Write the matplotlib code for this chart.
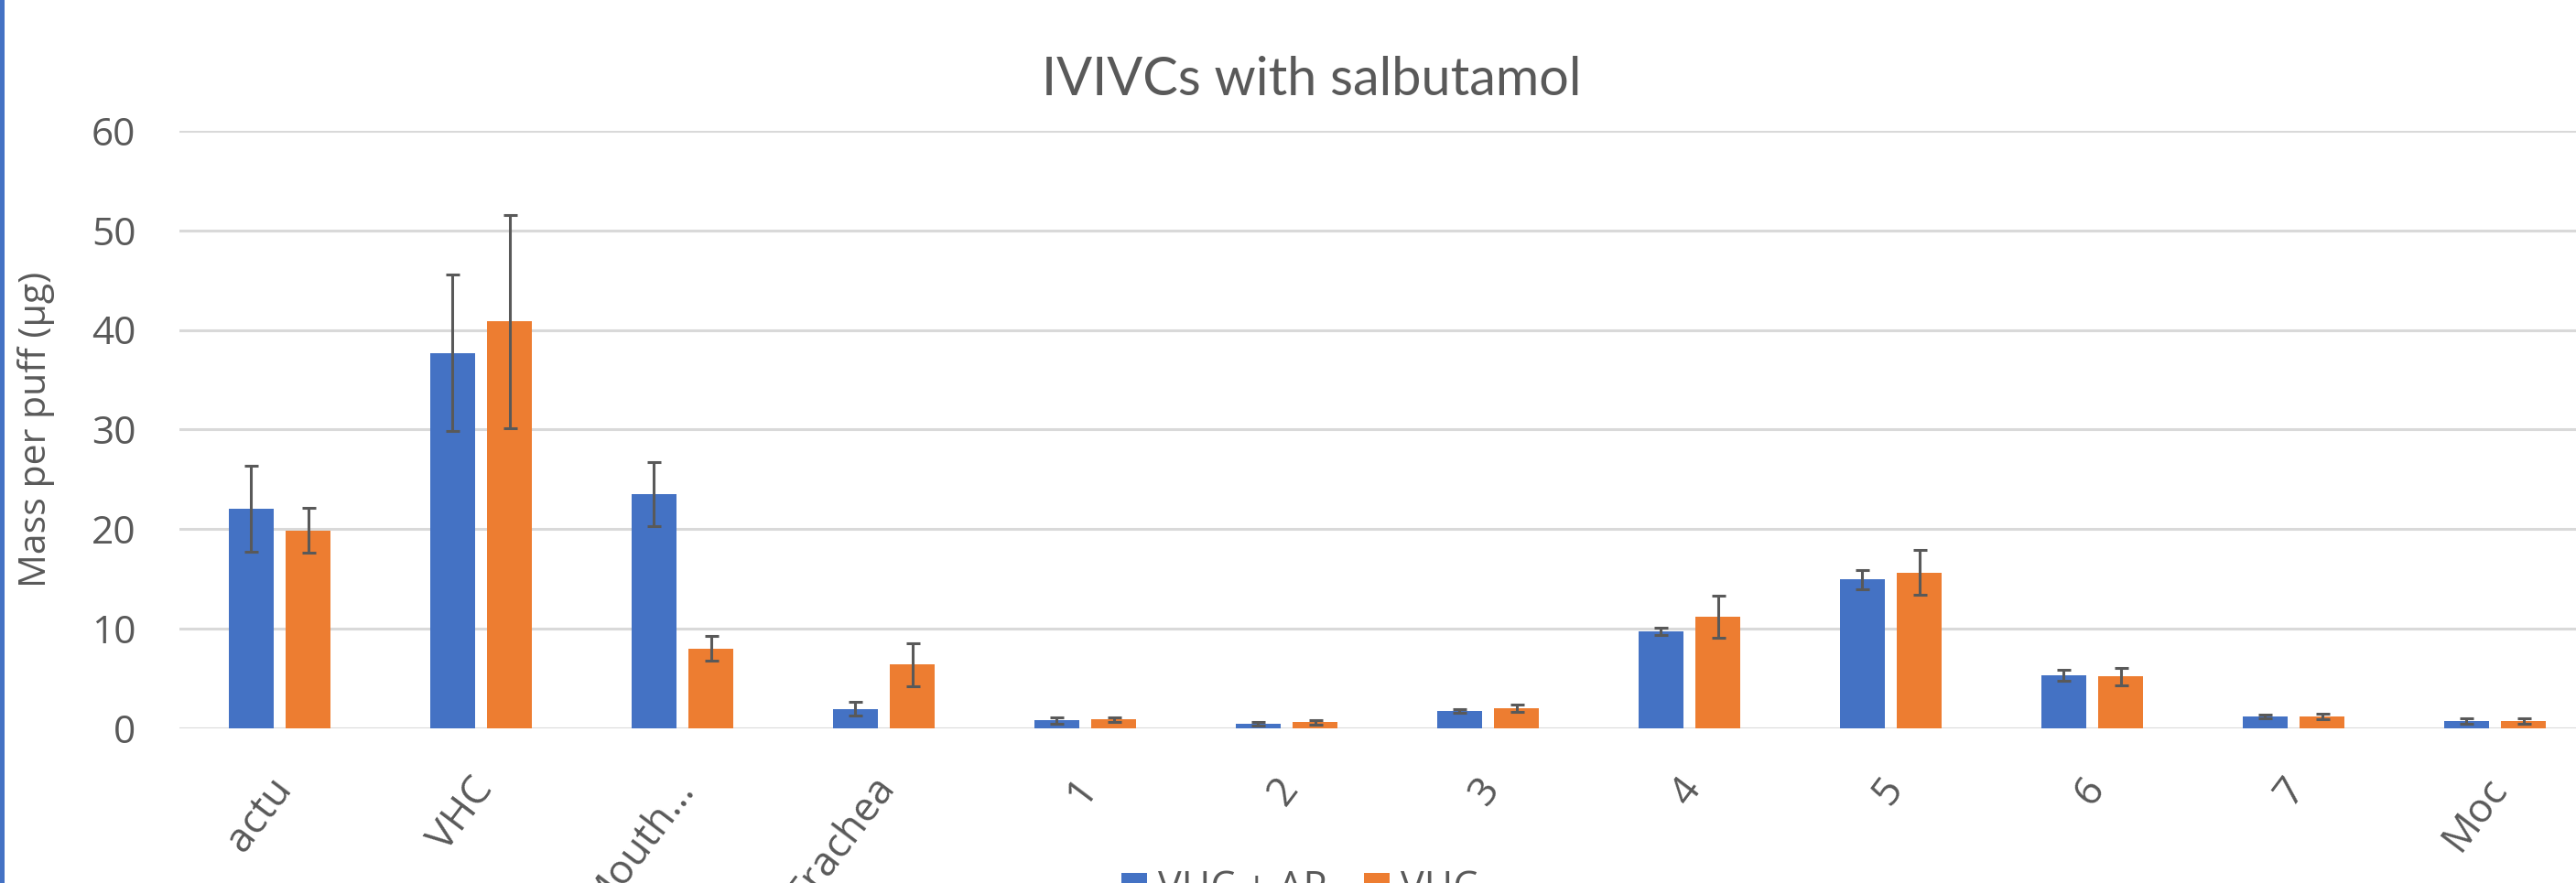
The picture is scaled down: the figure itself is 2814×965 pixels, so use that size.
import matplotlib
matplotlib.use("Agg")
import matplotlib.pyplot as plt
import matplotlib.transforms as mtransforms
from matplotlib.patches import Rectangle
import numpy as np

categories = ['actu', 'VHC', 'Mouth…', 'Trachea', '1', '2', '3', '4', '5', '6', '7', 'Moc']
series_names = ['VHC + AP', 'VHC']
vhc_ap = [22.0, 37.7, 23.5, 1.9, 0.75, 0.4, 1.7, 9.7, 14.9, 5.3, 1.15, 0.7]
vhc_ap_err = [4.3, 7.9, 3.2, 0.7, 0.3, 0.2, 0.22, 0.4, 0.95, 0.57, 0.22, 0.28]
vhc = [19.85, 40.85, 8.0, 6.35, 0.85, 0.57, 1.95, 11.2, 15.6, 5.15, 1.15, 0.7]
vhc_err = [2.25, 10.7, 1.2, 2.2, 0.23, 0.22, 0.35, 2.1, 2.25, 0.85, 0.25, 0.25]
yticks = [0, 10, 20, 30, 40, 50, 60]

TEXT = '#595959'
BLUE = '#4472C4'
ORANGE = '#ED7D31'
GRID = '#D9D9D9'
ERR = '#595959'

plt.rcParams['font.family'] = ['Open Sans', 'DejaVu Sans']

W, H = 2814, 965
fig = plt.figure(figsize=(W / 100, H / 100), dpi=100)
fig.patch.set_facecolor('white')

ax = fig.add_axes([195.5 / W, 169.5 / H, 2640 / W, 652.5 / H])
ax.set_facecolor('white')

x = np.arange(len(categories))
bw = 0.223
off = 0.142
b1 = ax.bar(x - off, vhc_ap, bw, color=BLUE, label=series_names[0], zorder=2)
b2 = ax.bar(x + off, vhc, bw, color=ORANGE, label=series_names[1], zorder=2)
ax.errorbar(x - off, vhc_ap, yerr=vhc_ap_err, fmt='none', ecolor=ERR,
            elinewidth=2.2, capsize=5.4, capthick=2.2, zorder=3)
ax.errorbar(x + off, vhc, yerr=vhc_err, fmt='none', ecolor=ERR,
            elinewidth=2.2, capsize=5.4, capthick=2.2, zorder=3)

ax.set_xlim(-0.5, len(categories) - 0.5)
ax.set_ylim(0, 60)
ax.set_yticks(yticks)
ax.yaxis.grid(True, color=GRID, linewidth=2.2, zorder=0)
ax.set_axisbelow(True)
for s in ax.spines.values():
    s.set_visible(False)
ax.tick_params(axis='y', length=0, pad=34, labelsize=30.5, labelcolor=TEXT)
ax.tick_params(axis='x', length=0, pad=43, labelsize=32, labelcolor=TEXT)
ax.set_xticks(x)
ax.set_xticklabels(categories, rotation=53, ha='right', va='center',
                   rotation_mode='anchor')
shift = mtransforms.ScaledTranslation(5 / 100, 0, fig.dpi_scale_trans)
for lab in ax.get_xticklabels():
    lab.set_transform(lab.get_transform() + shift)

ax.set_ylabel('Mass per puff (µg)', fontsize=29.5, color=TEXT)
ax.yaxis.set_label_coords(-0.0513, 0.5)

fig.text(1433 / W, (H - 104) / H, 'IVIVCs with salbutamol', ha='center',
         va='baseline', fontsize=41.5, color=TEXT,
         family=['Lato', 'DejaVu Sans'])

fig.legend(handles=[b1, b2], labels=series_names, loc='center left',
           bbox_to_anchor=(1225 / W, (H - 972) / H), ncol=2, frameon=False,
           fontsize=31, labelcolor=TEXT, borderpad=0, borderaxespad=0,
           handlelength=0.65, handleheight=0.65, handletextpad=0.28,
           columnspacing=0.95)

fig.patches.append(Rectangle((0, 0), 5 / W, 1, transform=fig.transFigure,
                             facecolor=BLUE, edgecolor='none'))

fig.savefig('out.png', dpi=100)
